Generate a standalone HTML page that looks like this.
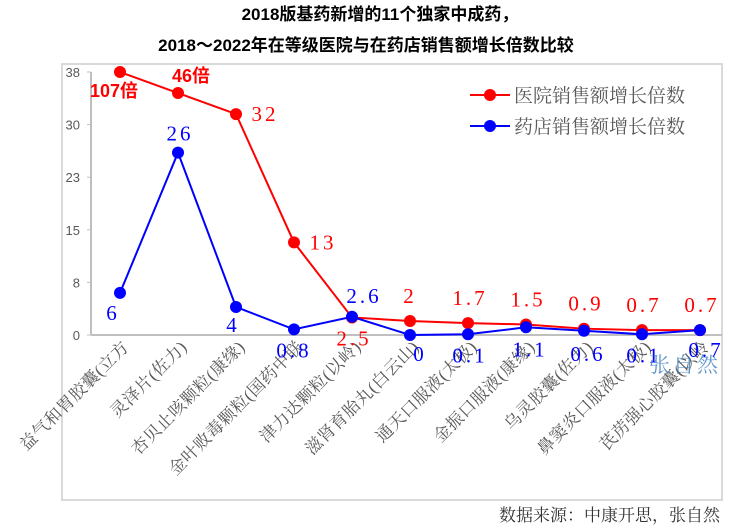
<!DOCTYPE html>
<html><head><meta charset="utf-8"><style>
body{margin:0;background:#fff;}
svg{display:block;font-family:"Liberation Sans","Noto Sans CJK SC",sans-serif;}
</style></head><body>
<svg id="c" width="732" height="528" viewBox="0 0 732 528">
<text x="380" y="20" text-anchor="middle" font-size="17" font-weight="bold" fill="#000">2018版基药新增的11个独家中成药，</text>
<text x="366" y="51" text-anchor="middle" font-size="17" font-weight="bold" fill="#000">2018～2022年在等级医院与在药店销售额增长倍数比较</text>
<rect x="62" y="64" width="660" height="436" fill="none" stroke="#d9d9d9" stroke-width="2"/>
<g id="axes"></g>
<g id="series"></g>
<g>
<line x1="470" y1="95" x2="510" y2="95" stroke="#f00" stroke-width="2"/><circle cx="490" cy="95" r="6" fill="#f00"/>
<text x="514" y="102" font-size="19" fill="#595959" font-family="'Liberation Serif','Noto Serif CJK SC',serif">医院销售额增长倍数</text>
<line x1="470" y1="126" x2="510" y2="126" stroke="#00f" stroke-width="2"/><circle cx="490" cy="126" r="6" fill="#00f"/>
<text x="514" y="133" font-size="19" fill="#595959" font-family="'Liberation Serif','Noto Serif CJK SC',serif">药店销售额增长倍数</text>
</g>
<text x="685" y="372" text-anchor="middle" font-size="21" fill="#2e75b6" opacity="0.75" letter-spacing="3" font-family="'Liberation Serif','Noto Serif CJK SC',serif">张自然</text>
<text x="720" y="521" text-anchor="end" font-size="17" fill="#333" font-family="'Liberation Serif','Noto Serif CJK SC',serif">数据来源：中康开思，张自然</text>
</svg>
<script>
const categories=["益气和胃胶囊(立方","灵泽片(佐力)","杏贝止咳颗粒(康缘)","金叶败毒颗粒(国药中联","津力达颗粒(以岭)","滋肾育胎丸(白云山)","通天口服液(太极)","金振口服液(康缘)","乌灵胶囊(佐力)","鼻窦炎口服液(太极)","芪苈强心胶囊(以岭"];
const hospitalValues=[37.5,34.5,31.5,13.2,2.5,2,1.7,1.5,0.9,0.7,0.7];
const hospitalLabels=["107倍","46倍","32","13","2.5","2","1.7","1.5","0.9","0.7","0.7"];
const pharmacyValues=[6,26,4,0.8,2.6,0,0.1,1.1,0.6,0.1,0.7];
const pharmacyLabels=["6","26","4","0.8","2.6","0","0.1","1.1","0.6","0.1","0.7"];
const yTicks=[0,7.5,15,22.5,30,37.5];
const yTickLabels=["0","8","15","23","30","38"];

const NS="http://www.w3.org/2000/svg";
const xs=i=>120+i*58;
const ys=v=>335-v*(263/37.5);
function mk(tag,attrs,parent,text){const e=document.createElementNS(NS,tag);for(const k in attrs)e.setAttribute(k,attrs[k]);if(text!==undefined)e.textContent=text;parent.appendChild(e);return e;}
const axes=document.getElementById('axes');
const ser=document.getElementById('series');
const ya=mk('line',{x1:91,y1:ys(37.5),x2:91,y2:335,stroke:'#bfbfbf','stroke-width':2},axes);


const xa=mk('line',{x1:91,y1:335,x2:722,y2:335,stroke:'#bfbfbf','stroke-width':2},axes);


yTicks.forEach((t,i)=>{
  mk('line',{x1:87,y1:ys(t),x2:91,y2:ys(t),stroke:'#bfbfbf','stroke-width':1},axes);
  const tx=mk('text',{x:80,y:ys(t)+5,'text-anchor':'end','font-size':13,fill:'#595959'},axes,yTickLabels[i]);
  
  
});
categories.forEach((c,i)=>{
  const x=xs(i)+10,y=348;
  const tx=mk('text',{x:x,y:y,'text-anchor':'end','font-size':17,'letter-spacing':0.5,fill:'#595959',transform:`rotate(-45 ${x} ${y})`,'font-family':'"Liberation Serif","Noto Serif CJK SC",serif'},axes,c);
  
  
});
function drawSeries(vals,labels,color,name,offsets){
  const pts=vals.map((v,i)=>xs(i)+','+ys(v)).join(' ');
  const pl=mk('polyline',{points:pts,fill:'none',stroke:color,'stroke-width':2},ser);
  
  
  vals.forEach((v,i)=>{
    const c=mk('circle',{cx:xs(i),cy:ys(v),r:6,fill:color},ser);
    
    
  });
  vals.forEach((v,i)=>{
    const o=offsets[i];
    const bold=labels[i].includes('倍');
    const t=mk('text',{x:xs(i)+o[0],y:ys(v)+o[1],'text-anchor':'middle','font-size':bold?18:21,'font-weight':bold?'bold':'normal',fill:color,'letter-spacing':bold?0:3,'font-family':bold?'"Liberation Sans","Noto Sans CJK SC",sans-serif':'"Liberation Serif","Noto Serif CJK SC",serif'},ser,labels[i]);
    
    
  });
}
drawSeries(hospitalValues,hospitalLabels,'#f00','hospital',[[-6,25],[13,-11],[29,7],[29,7],[2,28],[0,-18],[2,-18],[2,-18],[2,-18],[2,-18],[2,-18]]);
drawSeries(pharmacyValues,pharmacyLabels,'#00f','pharmacy',[[-7,27],[2,-12],[-3,25],[0,28],[12,-14],[10,26],[2,28],[4,29],[4,30],[2,28],[6,27]]);
</script>
</body></html>
